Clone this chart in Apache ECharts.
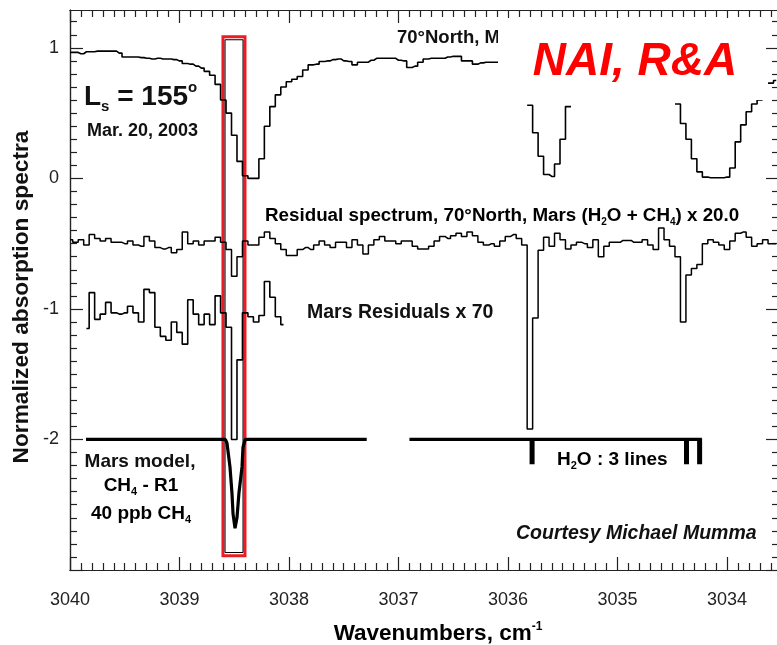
<!DOCTYPE html>
<html><head><meta charset="utf-8">
<script src="https://cdn.jsdelivr.net/npm/echarts/dist/echarts.min.js"></script>
<style>html,body{margin:0;padding:0;background:#fff}#c{width:777px;height:645px}</style>
</head><body><div id="c"></div>
<script>
// ---- data (wavenumber grid, cm^-1) ----
const wavenumbers = [
3040.00,3039.95,3039.90,3039.85,3039.80,3039.75,3039.70,3039.65,3039.60,3039.55,
3039.50,3039.45,3039.40,3039.35,3039.30,3039.25,3039.20,3039.15,3039.10,3039.05,
3039.00,3038.95,3038.90,3038.85,3038.80,3038.75,3038.70,3038.65,3038.60,3038.55,
3038.50,3038.45,3038.40,3038.35,3038.30,3038.25,3038.20,3038.15,3038.10,3038.05,
3038.00,3037.95,3037.90,3037.85,3037.80,3037.75,3037.70,3037.65,3037.60,3037.55,
3037.50,3037.45,3037.40,3037.35,3037.30,3037.25,3037.20,3037.15,3037.10,3037.05,
3037.00,3036.95,3036.90,3036.85,3036.80,3036.75,3036.70,3036.65,3036.60,3036.55,
3036.50,3036.45,3036.40,3036.35,3036.30,3036.25,3036.20,3036.15,3036.10,3036.05,
3036.00,3035.95,3035.90,3035.85,3035.80,3035.75,3035.70,3035.65,3035.60,3035.55,
3035.50,3035.45,3035.40,3035.35,3035.30,3035.25,3035.20,3035.15,3035.10,3035.05,
3035.00,3034.95,3034.90,3034.85,3034.80,3034.75,3034.70,3034.65,3034.60,3034.55,
3034.50,3034.45,3034.40,3034.35,3034.30,3034.25,3034.20,3034.15,3034.10,3034.05,
3034.00,3033.95,3033.90,3033.85,3033.80,3033.75,3033.70,3033.65,3033.60,3033.55];

// 70°North Mars spectrum ('-' = not visible)
const spectrum70N = [
0.965,0.965,0.955,0.97,0.97,0.975,0.975,0.975,0.975,0.96,
0.93,0.93,0.93,0.925,0.92,0.915,0.92,0.915,0.915,0.91,
0.9,0.88,0.875,0.86,0.845,0.82,0.79,0.72,0.6,0.5,
0.33,0.13,0.02,0,0,0.15,0.4,0.55,0.64,0.7,
0.74,0.76,0.78,0.83,0.87,0.875,0.895,0.9,0.91,0.915,
0.9,0.895,0.87,0.89,0.89,0.905,0.92,0.92,0.92,0.92,
0.905,0.9,0.85,0.86,0.89,0.915,0.92,0.92,0.92,0.93,
0.935,0.935,0.9,0.9,0.875,0.885,0.89,0.89,0.89,'-',
'-','-','-','-',0.56,0.35,0.17,0.03,0.015,0.11,
0.3,0.55,'-','-','-','-','-','-','-','-',
'-','-','-','-','-','-','-','-','-','-',
'-',0.57,0.42,0.3,0.15,0.05,0.01,0.005,0.005,0.005,
0.01,0.08,0.28,0.41,0.51,0.57,0.6,'-',0.73,0.75];

// Residual spectrum (H2O + CH4) x 20.0
const residualX20 = [
-0.47,-0.49,-0.47,-0.51,-0.43,-0.46,-0.48,-0.46,-0.49,-0.49,
-0.5,-0.48,-0.51,-0.52,-0.445,-0.48,-0.53,-0.54,-0.53,-0.57,
-0.545,-0.41,-0.5,-0.48,-0.51,-0.48,-0.48,-0.45,-0.49,-0.545,
-0.75,-0.6,-0.48,-0.51,-0.51,-0.45,-0.41,-0.46,-0.5,-0.545,
-0.59,-0.59,-0.545,-0.53,-0.545,-0.51,-0.48,-0.51,-0.53,-0.49,
-0.49,-0.53,-0.47,-0.51,-0.58,-0.51,-0.47,-0.445,-0.48,-0.48,
-0.5,-0.48,-0.48,-0.52,-0.54,-0.54,-0.52,-0.48,-0.445,-0.46,
-0.44,-0.42,-0.445,-0.41,-0.44,-0.49,-0.51,-0.5,-0.52,-0.48,
-0.445,-0.43,-0.46,-0.51,-1.92,-1.07,-0.55,-0.45,-0.52,-0.42,
-0.47,-0.54,-0.51,-0.49,-0.5,-0.53,-0.47,-0.6,-0.52,-0.49,
-0.49,-0.475,-0.475,-0.49,-0.49,-0.47,-0.51,-0.545,-0.38,-0.47,
-0.52,-0.6,-1.1,-0.74,-0.69,-0.66,-0.5,-0.47,-0.49,-0.51,
-0.545,-0.48,-0.42,-0.41,-0.45,-0.52,-0.5,-0.47,-0.5,-0.5];

// Mars residuals x 70 (covers wavenumbers 3039.85 .. 3038.05)
const marsWavenumbers = wavenumbers.slice(3, 40);
const marsResidualX70 = [
-1.15,-0.875,-1.08,-1.04,-0.95,-1.03,-1.04,
-1.03,-0.98,-1.03,-1.1,-0.85,-0.875,-1.14,-1.21,-1.24,-1.1,
-1.18,-1.27,-0.93,-1.04,-1.12,-1.04,-1.12,-0.9,-1.03,-1.14,
-2.0,-1.39,-1.03,-1.06,-1.1,-1.05,-0.79,-0.91,-1.06,-1.12];

// Mars model, CH4 - R1, 40 ppb CH4
const modelWavenumbers = [3039.854,3038.58,3038.566,3038.539,3038.521,3038.511,3038.493,3038.475,3038.457,3038.429,3038.42,3038.40,3037.29,3037.10,3036.90,3034.23];
const modelValues      = [-2,-2,-2.03,-2.21,-2.41,-2.57,-2.68,-2.6,-2.41,-2.21,-2.06,-2,-2,'-',-2,-2];

// H2O line positions (3 lines)
const h2oLineWavenumbers = [3035.78, 3034.37, 3034.25];

// axis ticks
const xTickLabels = [3040, 3039, 3038, 3037, 3036, 3035, 3034];
const yTickLabels = [1, 0, -1, -2];

// ---- chart ----
const FONT = '"Liberation Sans", Arial, Helvetica, sans-serif';
const zip = (a, b) => a.map((x, i) => [x, b[i]]);
const xMinor = [], yMinor = [];
for (let k = 30336; k <= 30399; k++) if (k % 10 !== 0) xMinor.push(k / 10);
for (let k = -29; k <= 12; k++) if (k % 10 !== 0) yMinor.push(k / 10);
const xMajor = xTickLabels.slice();
const yMajor = [-3, -2, -1, 0, 1];

const XMIN = 3033.525, XMAX = 3040, YMIN = -3, YMAX = 1.29;
const axisLine = { show: true, onZero: false, lineStyle: { color: '#222', width: 1.2 } };
function xAx(pos, major, labels) {
  return {
    type: 'value', position: pos, inverse: true, min: XMIN, max: XMAX,
    axisLine: axisLine, splitLine: { show: false },
    axisTick: { show: true, inside: true, length: major ? 13 : 7, customValues: major ? xMajor : xMinor, lineStyle: { color: '#222', width: 1.2 } },
    axisLabel: labels ? { show: true, customValues: xTickLabels, formatter: v => String(v), margin: 21, fontFamily: FONT, fontSize: 18, color: '#222' } : { show: false }
  };
}
function yAx(pos, major, labels) {
  return {
    type: 'value', position: pos, min: YMIN, max: YMAX,
    axisLine: axisLine, splitLine: { show: false },
    axisTick: { show: true, inside: true, length: major ? 13 : 7, customValues: major ? yMajor : yMinor, lineStyle: { color: '#222', width: 1.2 } },
    axisLabel: labels ? { show: true, customValues: yTickLabels, formatter: v => String(v), margin: 11, fontFamily: FONT, fontSize: 18, color: '#222' } : { show: false }
  };
}

const lineBase = { type: 'line', xAxisIndex: 0, yAxisIndex: 0, showSymbol: false, symbol: 'none', connectNulls: false, animation: false };

const option = {
  animation: false,
  backgroundColor: '#fff',
  grid: { left: 70, top: 10, width: 709, height: 560, containLabel: false, outerBoundsMode: 'none' },
  xAxis: [xAx('bottom', true, true), xAx('top', true, false), xAx('bottom', false, false), xAx('top', false, false)],
  yAxis: [yAx('left', true, true), yAx('right', true, false), yAx('left', false, false), yAx('right', false, false)],
  series: [
    Object.assign({}, lineBase, { name: '70N', step: 'middle', data: zip(wavenumbers, spectrum70N), lineStyle: { color: '#000', width: 1.6 },
      markArea: { silent: true, itemStyle: { color: 'rgba(0,0,0,0)', borderColor: '#ec1c24', borderWidth: 3 },
        data: [[{ xAxis: 3038.603, yAxis: 1.086 }, { xAxis: 3038.402, yAxis: -2.89 }]] } }),
    Object.assign({}, lineBase, { name: 'residual', step: 'middle', data: zip(wavenumbers, residualX20), lineStyle: { color: '#000', width: 1.5 },
      markArea: { silent: true, itemStyle: { color: 'rgba(0,0,0,0)', borderColor: '#000', borderWidth: 1 },
        data: [[{ xAxis: 3038.584, yAxis: 1.062 }, { xAxis: 3038.420, yAxis: -2.866 }]] } }),
    Object.assign({}, lineBase, { name: 'mars', step: 'middle', data: zip(marsWavenumbers, marsResidualX70), lineStyle: { color: '#000', width: 1.6 } }),
    Object.assign({}, lineBase, { name: 'model', data: zip(modelWavenumbers, modelValues), lineStyle: { color: '#000', width: 3.2 } }),
    { type: 'custom', name: 'h2o', xAxisIndex: 0, yAxisIndex: 0, data: h2oLineWavenumbers.map(w => [w, -2]),
      renderItem: function (params, api) {
        const t = api.coord([api.value(0), -2]);
        const b = api.coord([api.value(0), -2.19]);
        return { type: 'rect', shape: { x: t[0] - 2.5, y: t[1] - 1, width: 5, height: b[1] - t[1] + 1 }, style: { fill: '#000' } };
      } }
  ],
  graphic: { elements: [
    { type: 'text', x: 397, y: 38, z: 100, style: { text: '70°North, Mars', font: 'bold 18.5px ' + FONT, fill: '#111', align: 'left', verticalAlign: 'middle', textAlign: 'left', textVerticalAlign: 'middle' } },
    { type: 'rect', z: 101, shape: { x: 498, y: 18, width: 268, height: 82 }, style: { fill: '#fff' } },
    { type: 'text', x: 635, y: 62, z: 102, style: { text: 'NAI, R&A', font: 'italic bold 46px ' + FONT, fill: '#ff0000', align: 'center', verticalAlign: 'middle', textAlign: 'center', textVerticalAlign: 'middle' } },
    { type: 'text', x: 84, y: 97, z: 100, style: { text: '{a|L}{s|s}{a| = 155}{o|o}', align: 'left', verticalAlign: 'middle', textAlign: 'left', textVerticalAlign: 'middle',
      rich: { a: { font: 'bold 28px ' + FONT, fill: '#111', color: '#111', verticalAlign: 'middle', lineHeight: 34 },
              s: { font: 'bold 15px ' + FONT, fill: '#111', color: '#111', verticalAlign: 'bottom', lineHeight: 14 },
              o: { font: 'bold 15px ' + FONT, fill: '#111', color: '#111', verticalAlign: 'top', lineHeight: 14 } } } },
    { type: 'text', x: 87, y: 131, z: 100, style: { text: 'Mar. 20, 2003', font: 'bold 18px ' + FONT, fill: '#111', align: 'left', verticalAlign: 'middle', textAlign: 'left', textVerticalAlign: 'middle' } },
    { type: 'text', x: 265, y: 216, z: 100, style: { text: '{a|Residual spectrum, 70°North, Mars (H}{b|2}{a|O + CH}{b|4}{a|) x 20.0}', align: 'left', verticalAlign: 'middle', textAlign: 'left', textVerticalAlign: 'middle',
      rich: { a: { font: 'bold 18.8px ' + FONT, color: '#111', verticalAlign: 'middle', lineHeight: 22 }, b: { font: 'bold 10px ' + FONT, color: '#111', verticalAlign: 'bottom', lineHeight: 10 } } } },
    { type: 'text', x: 307, y: 313, z: 100, style: { text: 'Mars Residuals x 70', font: 'bold 19.5px ' + FONT, fill: '#111', align: 'left', verticalAlign: 'middle', textAlign: 'left', textVerticalAlign: 'middle' } },
    { type: 'text', x: 140, y: 462, z: 100, style: { text: 'Mars model,', font: 'bold 19px ' + FONT, fill: '#111', align: 'center', verticalAlign: 'middle', textAlign: 'center', textVerticalAlign: 'middle' } },
    { type: 'text', x: 141, y: 486, z: 100, style: { text: '{a|CH}{b|4}{a| - R1}', align: 'center', verticalAlign: 'middle', textAlign: 'center', textVerticalAlign: 'middle',
      rich: { a: { font: 'bold 19px ' + FONT, color: '#111', verticalAlign: 'middle', lineHeight: 22 }, b: { font: 'bold 11px ' + FONT, color: '#111', verticalAlign: 'bottom', lineHeight: 10 } } } },
    { type: 'text', x: 141, y: 514, z: 100, style: { text: '{a|40 ppb CH}{b|4}', align: 'center', verticalAlign: 'middle', textAlign: 'center', textVerticalAlign: 'middle',
      rich: { a: { font: 'bold 19px ' + FONT, color: '#111', verticalAlign: 'middle', lineHeight: 22 }, b: { font: 'bold 11px ' + FONT, color: '#111', verticalAlign: 'bottom', lineHeight: 10 } } } },
    { type: 'text', x: 557, y: 460, z: 100, style: { text: '{a|H}{b|2}{a|O : 3 lines}', align: 'left', verticalAlign: 'middle', textAlign: 'left', textVerticalAlign: 'middle',
      rich: { a: { font: 'bold 19px ' + FONT, color: '#111', verticalAlign: 'middle', lineHeight: 22 }, b: { font: 'bold 11px ' + FONT, color: '#111', verticalAlign: 'bottom', lineHeight: 10 } } } },
    { type: 'text', x: 516, y: 534, z: 100, style: { text: 'Courtesy Michael Mumma', font: 'italic bold 19.5px ' + FONT, fill: '#111', align: 'left', verticalAlign: 'middle', textAlign: 'left', textVerticalAlign: 'middle' } },
    { type: 'text', x: 438, y: 634, z: 100, style: { text: '{a|Wavenumbers, cm}{b|-1}', align: 'center', verticalAlign: 'middle', textAlign: 'center', textVerticalAlign: 'middle',
      rich: { a: { font: 'bold 22.5px ' + FONT, color: '#111', verticalAlign: 'middle', lineHeight: 26 }, b: { font: 'bold 12px ' + FONT, color: '#111', verticalAlign: 'top', lineHeight: 12 } } } },
    { type: 'text', x: 22, y: 297, z: 100, rotation: Math.PI / 2, style: { text: 'Normalized absorption spectra', font: 'bold 22.7px ' + FONT, fill: '#111', align: 'center', verticalAlign: 'middle', textAlign: 'center', textVerticalAlign: 'middle' } }
  ] }
};

const chart = echarts.init(document.getElementById('c'), null, { renderer: 'canvas' });
chart.setOption(option);
</script>
</body></html>
